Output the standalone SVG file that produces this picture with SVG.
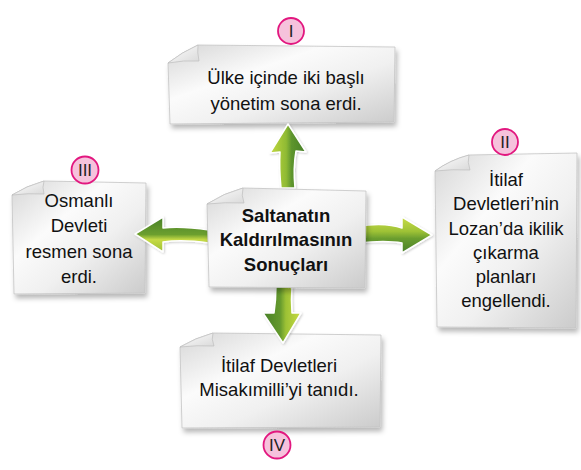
<svg xmlns="http://www.w3.org/2000/svg" width="581" height="470" viewBox="0 0 581 470">
<style>
.paper{fill:url(#paperGrad);stroke:#c4c4c4;stroke-width:0.8;filter:url(#shadow)}
.flap{fill:url(#flapGrad);stroke:#bdbdbd;stroke-width:0.7}
.t{font-family:"Liberation Sans",Arial,sans-serif;font-size:18.5px;fill:#111;text-anchor:middle}
.b{font-weight:bold}
.badge{fill:#f6c2dc;stroke:#e2177f;stroke-width:1.8}
.bt{font-family:"Liberation Sans",Arial,sans-serif;font-size:17px;fill:#222;text-anchor:middle}
.arrow{stroke:#ffffff;stroke-width:1.5;stroke-linejoin:round;filter:url(#ashadow)}
</style>
<defs>
<linearGradient id="paperGrad" x1="0" y1="0" x2="1" y2="1">
<stop offset="0" stop-color="#d6d6d6"/>
<stop offset="0.35" stop-color="#fbfbfb"/>
<stop offset="0.6" stop-color="#f0f0f0"/>
<stop offset="1" stop-color="#cbcbcb"/>
</linearGradient>
<linearGradient id="flapGrad" x1="0" y1="0" x2="1" y2="1">
<stop offset="0" stop-color="#ffffff"/>
<stop offset="1" stop-color="#d9d9d9"/>
</linearGradient>
<linearGradient id="gUp" x1="0" y1="0" x2="1" y2="0">
<stop offset="0" stop-color="#c4da40"/>
<stop offset="0.45" stop-color="#8fba33"/>
<stop offset="0.6" stop-color="#5e952d"/>
<stop offset="1" stop-color="#477f29"/>
</linearGradient>
<linearGradient id="gDown" x1="0" y1="0" x2="1" y2="0">
<stop offset="0" stop-color="#477f29"/>
<stop offset="0.45" stop-color="#64992d"/>
<stop offset="0.6" stop-color="#9cc135"/>
<stop offset="1" stop-color="#c9dc42"/>
</linearGradient>
<linearGradient id="gLeft" x1="0" y1="0" x2="0" y2="1">
<stop offset="0" stop-color="#477f29"/>
<stop offset="0.5" stop-color="#6c9f2e"/>
<stop offset="0.65" stop-color="#c6da45"/>
<stop offset="1" stop-color="#9cc034"/>
</linearGradient>
<linearGradient id="gRight" x1="0" y1="0" x2="0" y2="1">
<stop offset="0" stop-color="#c9dc45"/>
<stop offset="0.4" stop-color="#9ec236"/>
<stop offset="0.6" stop-color="#6a9d2e"/>
<stop offset="1" stop-color="#477f29"/>
</linearGradient>
<filter id="shadow" x="-10%" y="-10%" width="125%" height="130%">
<feDropShadow dx="2" dy="4" stdDeviation="2.5" flood-color="#000" flood-opacity="0.28"/>
</filter>
<filter id="ashadow" x="-20%" y="-20%" width="140%" height="140%">
<feDropShadow dx="1" dy="1" stdDeviation="1" flood-color="#000" flood-opacity="0.2"/>
</filter>
</defs>

<g id="node-I">
<path class="paper" d="M198,45 L395,47 L394,122 L170,124 L168,63 Q182,52 198,45 Z"/>
<path class="flap" d="M168,63 Q184,60 199,61 Q197,52 198,45 Q182,52 168,63 Z"/>
<text class="t" x="286" y="84">Ülke içinde iki başlı</text>
<text class="t" x="286" y="110">yönetim sona erdi.</text>
<circle class="badge" cx="291" cy="31" r="13"/>
<text class="bt" x="291" y="37">I</text>
</g>

<g id="node-III">
<path class="paper" d="M44,181 L146,183 L145,293 L14,294 L12,195 Q26,186 44,181 Z"/>
<path class="flap" d="M12,195 Q28,193 44,194 Q42,187 44,181 Q26,186 12,195 Z"/>
<text class="t" x="79" y="207">Osmanlı</text>
<text class="t" x="79" y="232">Devleti</text>
<text class="t" x="79" y="258">resmen sona</text>
<text class="t" x="79" y="283">erdi.</text>
<circle class="badge" cx="85" cy="170" r="13.5"/>
<text class="bt" x="85" y="176">III</text>
</g>

<g id="node-II">
<path class="paper" d="M469,155 L577,153 L576,328 L437,327 L435,171 Q450,160 469,155 Z"/>
<path class="flap" d="M435,171 Q452,169 470,170 Q467,162 469,155 Q450,160 435,171 Z"/>
<text class="t" x="506" y="186">İtilaf</text>
<text class="t" x="506" y="210">Devletleri’nin</text>
<text class="t" x="506" y="235">Lozan’da ikilik</text>
<text class="t" x="506" y="259">çıkarma</text>
<text class="t" x="506" y="283">planları</text>
<text class="t" x="506" y="307">engellendi.</text>
<circle class="badge" cx="505" cy="142" r="13"/>
<text class="bt" x="505" y="148">II</text>
</g>

<g id="node-IV">
<path class="paper" d="M213,333 L381,335 L380,427 L182,428 L180,347 Q195,338 213,333 Z"/>
<path class="flap" d="M180,347 Q197,345 214,346 Q211,339 213,333 Q195,338 180,347 Z"/>
<text class="t" x="279" y="372">İtilaf Devletleri</text>
<text class="t" x="279" y="396">Misakımilli’yi tanıdı.</text>
<circle class="badge" cx="277" cy="445" r="13.5"/>
<text class="bt" x="277" y="451">IV</text>
</g>

<g id="connectors">
<path class="arrow" fill="url(#gUp)" d="M288,124 L306,152 L296,151 Q293,168 295,188 L281,188 Q279,168 280,152 L270,153 Z"/>
<path class="arrow" fill="url(#gLeft)" d="M135,234 L163,217 L163,228 Q182,226 209,230 L209,243 Q182,239 163,242 L163,252 Z"/>
<path class="arrow" fill="url(#gRight)" d="M358,226 Q386,222 402,228 L402,217 L432,235 L402,253 L402,243 Q386,240 358,243 Z"/>
<path class="arrow" fill="url(#gDown)" d="M276,285 L292,285 Q291,300 292,313 L301,313 L283,343 L263,313 L274,313 Q276,300 276,285 Z"/>
</g>

<g id="node-center">
<path class="paper" d="M243,188 L366,191 L365,288 L209,287 L207,204 Q224,193 243,188 Z"/>
<path class="flap" d="M207,204 Q225,202 244,203 Q241,195 243,188 Q224,193 207,204 Z"/>
<text class="t b" x="286" y="222">Saltanatın</text>
<text class="t b" x="286" y="246">Kaldırılmasının</text>
<text class="t b" x="286" y="271">Sonuçları</text>
</g>
</svg>
